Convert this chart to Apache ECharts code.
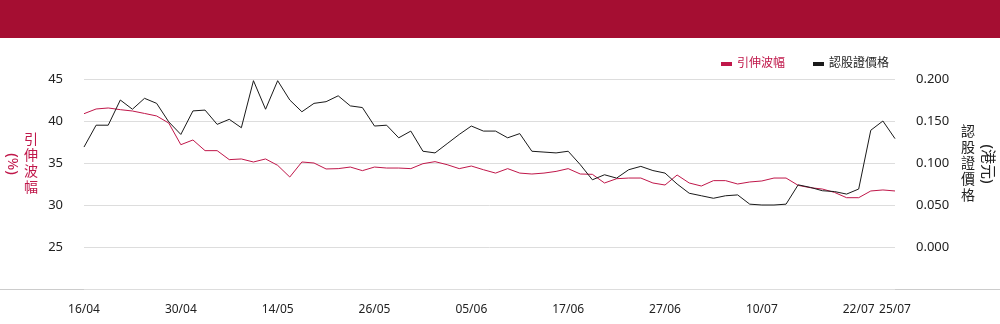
<!DOCTYPE html>
<html>
<head>
<meta charset="utf-8">
<script src="https://cdn.jsdelivr.net/npm/echarts@6/dist/echarts.min.js"></script>
<style>
html,body{margin:0;padding:0;background:#fff;}
#c{width:1000px;height:324px;}
</style>
</head>
<body>
<div id="c"></div>
<script>
const categories = ['16/04','17/04','22/04','23/04','24/04','25/04','28/04','29/04','30/04',
'02/05','06/05','07/05','08/05','09/05','12/05','13/05','14/05','15/05','16/05','19/05','20/05','21/05','22/05','23/05','26/05',
'27/05','28/05','29/05','30/05','02/06','03/06','04/06','05/06','06/06','09/06','10/06','11/06','12/06','13/06','16/06','17/06',
'18/06','19/06','20/06','23/06','24/06','25/06','26/06','27/06','30/06','02/07','03/07','04/07','07/07','08/07','09/07','10/07',
'11/07','14/07','15/07','16/07','17/07','18/07','21/07','22/07','23/07','24/07','25/07'];

const impliedVol = [40.87,41.43,41.55,41.35,41.19,40.9,40.6,39.76,37.18,37.74,
36.47,36.47,35.4,35.48,35.12,35.48,34.72,33.33,35.12,35.0,
34.29,34.33,34.52,34.09,34.52,34.4,34.4,34.33,34.92,35.16,
34.8,34.33,34.64,34.2,33.8,34.33,33.8,33.69,33.8,34.0,
34.33,33.69,33.65,32.62,33.13,33.21,33.21,32.62,32.38,33.57,
32.62,32.26,32.9,32.9,32.5,32.74,32.86,33.21,33.21,32.34,
32.06,31.9,31.5,30.87,30.87,31.67,31.79,31.67];

const warrantPrice = [0.119,0.145,0.145,0.175,0.164,0.177,0.171,0.149,0.134,0.162,
0.163,0.146,0.152,0.142,0.198,0.164,0.198,0.175,0.161,0.171,
0.173,0.180,0.168,0.166,0.144,0.145,0.130,0.138,0.114,0.112,
0.123,0.134,0.144,0.138,0.138,0.130,0.135,0.114,0.113,0.112,
0.114,0.098,0.080,0.086,0.082,0.092,0.096,0.091,0.088,0.075,
0.064,0.061,0.058,0.061,0.062,0.051,0.050,0.050,0.051,0.074,
0.071,0.067,0.066,0.063,0.069,0.139,0.150,0.129];

const leftTicks = {min:20, max:45, interval:5};
const rightTicks = {min:-0.05, max:0.2, interval:0.05};

const RED = '#C0174A';
const BLACK = '#1a1a1a';
const FONT = '"Noto Sans","Noto Sans CJK TC",sans-serif';

const chart = echarts.init(document.getElementById('c'), null, {renderer:'canvas'});
chart.setOption({
  backgroundColor:'#fff',
  animation:false,
  textStyle:{fontFamily:FONT},
  grid:{left:84, right:105, top:79, bottom:35, containLabel:false},
  legend:{
    left:716, top:53, itemWidth:11, itemHeight:4, itemGap:28, icon:'rect',
    textStyle:{fontSize:12, fontFamily:FONT},
    data:[{name:'引伸波幅', textStyle:{color:RED}},{name:'認股證價格', textStyle:{color:'#222'}}]
  },
  xAxis:{
    type:'category', data:categories, boundaryGap:false,
    axisLine:{show:false}, axisTick:{show:false},
    axisLabel:{color:'#222', fontSize:12, margin:15,
      interval:function(i){return i%8===0 || i===categories.length-1;}}
  },
  yAxis:[{
    type:'value', min:leftTicks.min, max:leftTicks.max, interval:leftTicks.interval,
    axisLine:{show:false}, axisTick:{show:false},
    splitLine:{lineStyle:{color:'#dddddd', width:1}},
    axisLabel:{color:'#222', fontSize:13, margin:21, showMinLabel:false}
  },{
    type:'value', min:rightTicks.min, max:rightTicks.max, interval:rightTicks.interval,
    axisLine:{show:false}, axisTick:{show:false}, splitLine:{show:false},
    axisLabel:{color:'#222', fontSize:13, margin:21, showMinLabel:false,
      formatter:function(v){return v.toFixed(3);}}
  }],
  series:[{
    name:'引伸波幅', type:'line', yAxisIndex:0, data:impliedVol, symbol:'none',
    lineStyle:{color:RED, width:1}, itemStyle:{color:RED}
  },{
    name:'認股證價格', type:'line', yAxisIndex:1, data:warrantPrice, symbol:'none',
    lineStyle:{color:BLACK, width:1}, itemStyle:{color:BLACK}
  }],
  graphic:[
    {type:'rect', shape:{x:0,y:0,width:1000,height:38}, style:{fill:'#A50E32'}, silent:true},
    {type:'line', shape:{x1:0,y1:289.5,x2:1000,y2:289.5}, style:{stroke:'#cccccc', lineWidth:1}, silent:true},
    {type:'text', x:31, y:164, style:{text:'引\n伸\n波\n幅', fill:RED, font:'14px '+FONT, align:'center', verticalAlign:'middle', lineHeight:16}},
    {type:'text', x:12, y:164, rotation:-Math.PI/2, style:{text:'(%)', fill:RED, font:'15px '+FONT, align:'center', verticalAlign:'middle'}},
    {type:'text', x:968, y:164, style:{text:'認\n股\n證\n價\n格', fill:'#222', font:'14px '+FONT, align:'center', verticalAlign:'middle', lineHeight:16}},
    {type:'text', x:987, y:164, rotation:-Math.PI/2, style:{text:'(港元)', fill:'#222', font:'15px '+FONT, align:'center', verticalAlign:'middle'}}
  ]
});
</script>
</body>
</html>
